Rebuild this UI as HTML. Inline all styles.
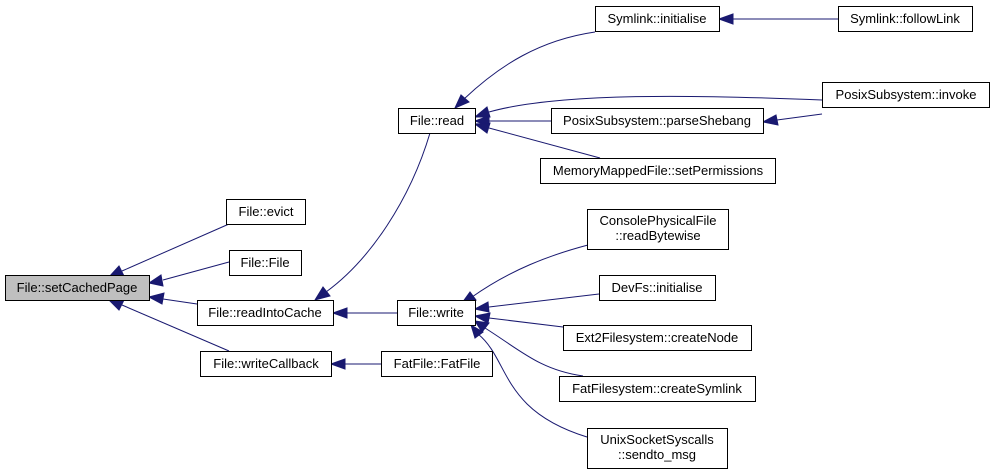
<!DOCTYPE html>
<html><head><meta charset="utf-8"><style>
html,body{margin:0;padding:0;background:#fff;}
svg{display:block;}
text{font-family:"Liberation Sans",Helvetica,Arial,sans-serif;font-size:13px;fill:#000;}
.b{fill:#fff;stroke:#000;stroke-width:1;}
.e{fill:none;stroke:#191970;stroke-width:1;}
.a{fill:#191970;stroke:#191970;}
</style></head><body>
<svg width="995" height="474" viewBox="0 0 995 474" xmlns="http://www.w3.org/2000/svg">
<path class="e" d="M122,271 L229,224"/><polygon class="a" points="109,277 119,266 124,276"/>
<path class="e" d="M163,280 L229,262"/><polygon class="a" points="149,283 161,275 163,286"/>
<path class="e" d="M163,299 L197,304"/><polygon class="a" points="149,297 164,293 162,304"/>
<path class="e" d="M122,305 L229,351"/><polygon class="a" points="109,300 124,300 119,310"/>
<path class="e" d="M347,313 L397,313"/><polygon class="a" points="333,313 347,308 347,318"/>
<path class="e" d="M345,364 L381,364"/><polygon class="a" points="331,364 345,359 345,369"/>
<path class="e" d="M326,292 C370,260 410,200 430,133"/><polygon class="a" points="315,300 323,287 330,296"/>
<path class="e" d="M464,99 C500,65 540,40 595,32"/><polygon class="a" points="455,108 461,95 469,102"/>
<path class="e" d="M733,19 L838,19"/><polygon class="a" points="719,19 733,14 733,24"/>
<path class="e" d="M489,112 C560,92 700,95 822,100"/><polygon class="a" points="475,117 487,107 490,117"/>
<path class="e" d="M489,121 L551,121"/><polygon class="a" points="475,121 489,116 489,126"/>
<path class="e" d="M777,120 L822,114"/><polygon class="a" points="763,122 776,115 778,125"/>
<path class="e" d="M489,128 L600,158"/><polygon class="a" points="475,124 490,123 487,133"/>
<path class="e" d="M472,297 C510,270 550,255 588,245"/><polygon class="a" points="462,303 470,292 476,300"/>
<path class="e" d="M489,307 L599,294"/><polygon class="a" points="475,309 488,302 489,312"/>
<path class="e" d="M489,318 L563,327"/><polygon class="a" points="475,316 490,313 488,323"/>
<path class="e" d="M485,328 C520,350 540,370 583,376"/><polygon class="a" points="475,321 489,323 482,332"/>
<path class="e" d="M478,334 C510,360 500,410 587,437"/><polygon class="a" points="471,325 483,332 475,338"/>
<rect x="5.5" y="275.5" width="144" height="25" fill="#bfbfbf" stroke="#000"/><text x="77" y="292" text-anchor="middle">File::setCachedPage</text>
<rect class="b" x="226.5" y="199.5" width="79" height="25"/><text x="266" y="216" text-anchor="middle">File::evict</text>
<rect class="b" x="229.5" y="250.5" width="72" height="25"/><text x="265" y="267" text-anchor="middle">File::File</text>
<rect class="b" x="197.5" y="300.5" width="136" height="25"/><text x="265" y="317" text-anchor="middle">File::readIntoCache</text>
<rect class="b" x="200.5" y="351.5" width="131" height="25"/><text x="266" y="368" text-anchor="middle">File::writeCallback</text>
<rect class="b" x="397.5" y="300.5" width="78" height="25"/><text x="436" y="317" text-anchor="middle">File::write</text>
<rect class="b" x="381.5" y="351.5" width="111" height="25"/><text x="437" y="368" text-anchor="middle">FatFile::FatFile</text>
<rect class="b" x="398.5" y="108.5" width="77" height="25"/><text x="437" y="125" text-anchor="middle">File::read</text>
<rect class="b" x="595.5" y="6.5" width="124" height="25"/><text x="657" y="23" text-anchor="middle">Symlink::initialise</text>
<rect class="b" x="838.5" y="6.5" width="134" height="25"/><text x="905" y="23" text-anchor="middle">Symlink::followLink</text>
<rect class="b" x="822.5" y="82.5" width="167" height="25"/><text x="906" y="99" text-anchor="middle">PosixSubsystem::invoke</text>
<rect class="b" x="551.5" y="108.5" width="212" height="25"/><text x="657" y="125" text-anchor="middle">PosixSubsystem::parseShebang</text>
<rect class="b" x="540.5" y="158.5" width="235" height="25"/><text x="658" y="175" text-anchor="middle">MemoryMappedFile::setPermissions</text>
<rect class="b" x="587.5" y="209.5" width="141" height="40"/><text x="658" y="225" text-anchor="middle">ConsolePhysicalFile</text><text x="658" y="240" text-anchor="middle">::readBytewise</text>
<rect class="b" x="599.5" y="275.5" width="116" height="25"/><text x="657" y="292" text-anchor="middle">DevFs::initialise</text>
<rect class="b" x="563.5" y="325.5" width="188" height="25"/><text x="657" y="342" text-anchor="middle">Ext2Filesystem::createNode</text>
<rect class="b" x="559.5" y="376.5" width="196" height="25"/><text x="657" y="393" text-anchor="middle">FatFilesystem::createSymlink</text>
<rect class="b" x="587.5" y="428.5" width="140" height="40"/><text x="657" y="444" text-anchor="middle">UnixSocketSyscalls</text><text x="657" y="459" text-anchor="middle">::sendto_msg</text>
</svg>
</body></html>
